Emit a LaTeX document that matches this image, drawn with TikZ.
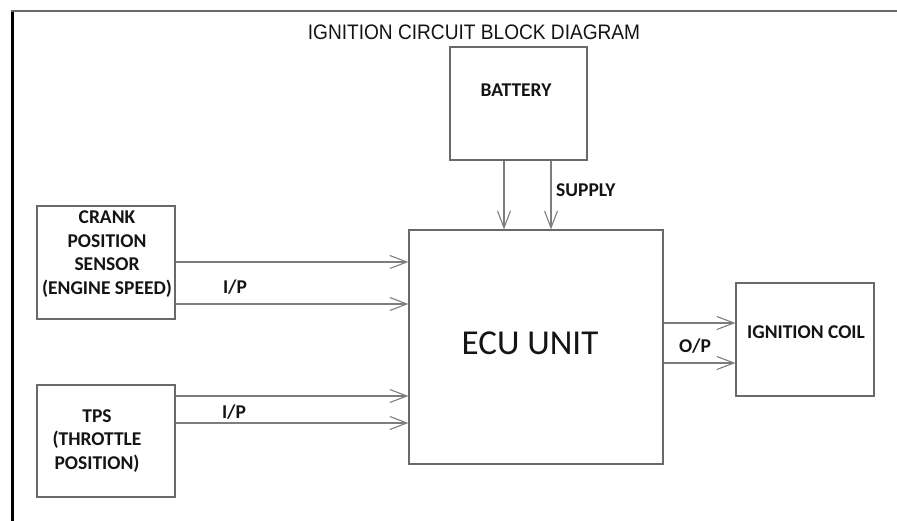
\documentclass[tikz,border=0pt]{standalone}
\usepackage{xcolor}
\usepackage{fontspec}
\setmainfont{Carlito}
\newfontfamily\titulofont{Liberation Sans}
\usepackage{tikz}
\usetikzlibrary{positioning,arrows.meta,calc}
\definecolor{borde}{RGB}{105,105,105}
\definecolor{linea}{RGB}{125,125,125}
\definecolor{texto}{RGB}{20,20,20}

\begin{document}
\begin{tikzpicture}[x=1pt, y=-1pt,
  bloque/.style={draw=borde, line width=1.2pt, inner sep=0pt},
  rotulo/.style={align=center, inner sep=0pt, text=texto,
                 font=\fontsize{19.5}{23.4}\selectfont\bfseries},
  senal/.style={inner sep=0pt, text=texto,
                font=\fontsize{19.5}{23.4}\selectfont\bfseries},
  flecha/.style={-{Straight Barb[length=17pt, width=13pt, line width=1.1pt]},
                 line width=1.1pt, color=linea}]
  \useasboundingbox (0,0) rectangle (897,521);
  % marco
  \draw[line width=3.5pt, black] (12.5,10.5) -- (12.5,521);
  \draw[line width=1.2pt, borde] (11,11) -- (897,11);
  \node[inner sep=0pt, text=texto, xscale=0.91, font=\titulofont\fontsize{21}{25}\selectfont]
    (titulo) at (474,32.5) {IGNITION CIRCUIT BLOCK DIAGRAM};
  % bloques
  \node[bloque, minimum width=137pt, minimum height=113pt] (bateria) at (518.5,103.5) {};
  \node[rotulo] (tbateria) at (516,90) {BATTERY};
  \node[bloque, minimum width=254pt, minimum height=234pt] (ecu) at (536,347) {};
  \node[inner sep=0pt, text=texto, font=\fontsize{35}{40}\selectfont] (tecu) at (530,343) {ECU UNIT};
  \node[bloque, minimum width=138pt, minimum height=113pt] (cigueenal) at (106,262.5) {};
  \node[rotulo] (tcigueenal) at (107,254) {CRANK\\POSITION\\SENSOR\\(ENGINE SPEED)};
  \node[bloque, minimum width=138pt, minimum height=112pt] (tps) at (106,441) {};
  \node[rotulo] (ttps) at (97,441) {TPS\\(THROTTLE\\POSITION)};
  \node[bloque, minimum width=138pt, minimum height=113pt] (bobina) at (805,339.5) {};
  \node[rotulo] (tbobina) at (806,332) {IGNITION COIL};
  % conexiones
  \draw[flecha] ($(bateria.south)+(-14.5,0)$) -- ($(bateria.south |- ecu.north)+(-14.5,0)$);
  \draw[flecha] ($(bateria.south)+(32.5,0)$) -- ($(bateria.south |- ecu.north)+(32.5,0)$);
  \draw[flecha] ($(cigueenal.east)+(0,-0.5)$) -- ($(cigueenal.east -| ecu.west)+(0,-0.5)$);
  \draw[flecha] ($(cigueenal.east)+(0,41.5)$) -- ($(cigueenal.east -| ecu.west)+(0,41.5)$);
  \draw[flecha] ($(tps.east)+(0,-45)$) -- ($(tps.east -| ecu.west)+(0,-45)$);
  \draw[flecha] ($(tps.east)+(0,-18)$) -- ($(tps.east -| ecu.west)+(0,-18)$);
  \draw[flecha] ($(ecu.east)+(0,-24)$) -- ($(ecu.east -| bobina.west)+(0,-24)$);
  \draw[flecha] ($(ecu.east)+(0,16)$) -- ($(ecu.east -| bobina.west)+(0,16)$);
  \node[senal, anchor=west] (supply) at (556,190) {SUPPLY};
  \node[senal] (ip1) at (235,287) {I/P};
  \node[senal] (ip2) at (234,412) {I/P};
  \node[senal] (op) at (695,346) {O/P};
\end{tikzpicture}
\end{document}
